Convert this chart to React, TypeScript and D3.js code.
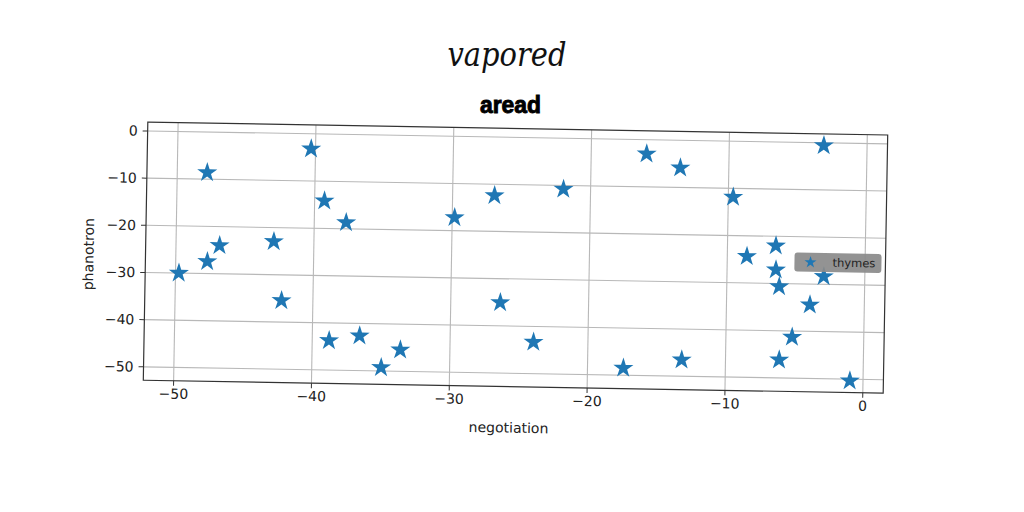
import * as d3 from "d3";

const xs = [
  -49.76, -47.83, -47.71, -46.84, -42.91, -42.28, -40.32, -39.29, -37.69, -38.78, -36.57,
  -34.97, -33.6, -29.83, -26.96, -26.41, -23.95, -21.97, -17.4, -15.98, -13.52, -13.18,
  -9.65, -8.58, -6.49, -6.46, -6.2, -6.11, -5.2, -3.95, -2.98, -3.14, -0.96,
];
const ys = [
  -30.0, -8.6, -27.45, -24.0, -22.97, -35.44, -3.19, -14.16, -18.68, -43.74, -42.63,
  -49.27, -45.45, -17.22, -12.41, -35.06, -43.32, -10.8, -48.5, -3.01, -5.85, -46.53,
  -11.86, -24.36, -22.02, -27.1, -30.64, -46.17, -41.31, -34.4, -28.35, -0.6, -50.35,
];
const xTicks = [-50, -40, -30, -20, -10, 0];
const yTicks = [0, -10, -20, -30, -40, -50];
const seriesName = "thymes";

const W = 1024;
const H = 512;
const plot = { left: 145.5, right: 885.5, top: 128.5, bottom: 386.7 };
const blue = "#1f77b4";
const font = "'DejaVu Sans', sans-serif";

// matplotlib-style 5% margins around the data
function padded(v: number[]): [number, number] {
  const [lo, hi] = d3.extent(v) as [number, number];
  const m = (hi - lo) * 0.05;
  return [lo - m, hi + m];
}

export default function App() {
  const x = d3.scaleLinear().domain(padded(xs)).range([plot.left, plot.right]);
  const y = d3.scaleLinear().domain(padded(ys)).range([plot.bottom, plot.top]);
  const star = d3.symbol().type(d3.symbolStar).size(125)()!;
  const smallStar = d3.symbol().type(d3.symbolStar).size(45)()!;
  const cx = (plot.left + plot.right) / 2;
  const cy = (plot.top + plot.bottom) / 2;

  return (
    <svg
      width={W}
      height={H}
      style={{ position: "fixed", left: 0, top: 0, background: "#fff" }}
    >
      <rect width={W} height={H} fill="#fff" />
      <text
        x={507}
        y={66}
        textAnchor="middle"
        fontFamily="cursive, 'DejaVu Serif', serif"
        fontStyle="italic"
        fontSize={34}
        textLength={119}
        lengthAdjust="spacingAndGlyphs"
        fill="#111"
      >
        vapored
      </text>
      <text
        x={510.5}
        y={113}
        textAnchor="middle"
        fontFamily="Impact, 'Liberation Sans Narrow', 'Liberation Sans', sans-serif"
        fontWeight="bold"
        fontSize={23}
        textLength={61}
        lengthAdjust="spacingAndGlyphs"
        fill="#000"
        stroke="#000"
        strokeWidth={0.9}
      >
        aread
      </text>

      <g transform={`rotate(1, ${cx}, ${cy})`}>
        {/* grid */}
        {xTicks.map(t => (
          <line key={"gx" + t} x1={x(t)} x2={x(t)} y1={plot.top} y2={plot.bottom} stroke="#b8b8b8" strokeWidth={1.1} />
        ))}
        {yTicks.map(t => (
          <line key={"gy" + t} x1={plot.left} x2={plot.right} y1={y(t)} y2={y(t)} stroke="#b8b8b8" strokeWidth={1.1} />
        ))}

        {/* points */}
        {xs.map((v, i) => (
          <path key={i} d={star} transform={`translate(${x(v)},${y(ys[i])})`} fill={blue} />
        ))}

        {/* frame */}
        <rect
          x={plot.left}
          y={plot.top}
          width={plot.right - plot.left}
          height={plot.bottom - plot.top}
          fill="none"
          stroke="#333"
          strokeWidth={1.2}
        />

        {/* x axis */}
        {xTicks.map(t => (
          <g key={"xt" + t} transform={`translate(${x(t)},${plot.bottom})`}>
            <line y2={5} stroke="#333" />
            <text y={18} textAnchor="middle" fontFamily={font} fontSize={14} fill="#222">
              {t < 0 ? `\u2212${-t}` : t}
            </text>
          </g>
        ))}
        {/* y axis */}
        {yTicks.map(t => (
          <g key={"yt" + t} transform={`translate(${plot.left},${y(t)})`}>
            <line x2={-5} stroke="#333" />
            <text x={-10} dy="0.35em" textAnchor="end" fontFamily={font} fontSize={14} fill="#222">
              {t < 0 ? `\u2212${-t}` : t}
            </text>
          </g>
        ))}

        <text x={cx - 4} y={plot.bottom + 46} textAnchor="middle" fontFamily={font} fontSize={14} fill="#222">
          negotiation
        </text>
        <text
          transform={`translate(${plot.left - 52},${cy + 4}) rotate(-90)`}
          textAnchor="middle"
          fontFamily={font}
          fontSize={14}
          fill="#222"
        >
          phanotron
        </text>

        {/* legend */}
        <g transform={`translate(${plot.right - 91},${cy - 10})`}>
          <rect width={87} height={19} rx={3} fill="#8a8a8a" fillOpacity={0.92} />
          <path d={smallStar} transform="translate(16,9.5)" fill={blue} />
          <text x={38} y={9.5} dy="0.35em" fontFamily={font} fontSize={11.5} fill="#222">
            {seriesName}
          </text>
        </g>
      </g>
    </svg>
  );
}
